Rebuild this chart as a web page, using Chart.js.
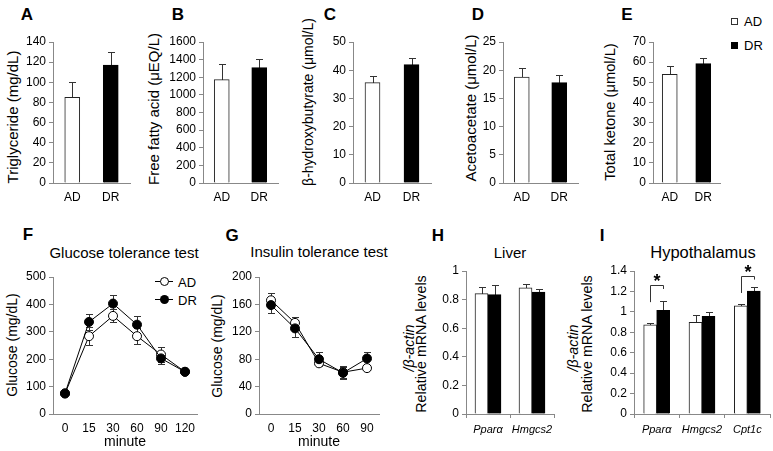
<!DOCTYPE html>
<html>
<head>
<meta charset="utf-8">
<script src="https://cdn.jsdelivr.net/npm/chart.js@4.4.1/dist/chart.umd.min.js"></script>
<style>
  html, body { margin: 0; padding: 0; background: #fff; overflow: hidden; }
  body { width: 773px; height: 451px; position: relative; font-family: 'Liberation Sans', Arial, sans-serif; color: #000; }
  .lbl { position: absolute; white-space: nowrap; transform: translate(-50%, -50%); line-height: 1; }
  .lt { position: absolute; white-space: nowrap; transform: translate(0, -50%); line-height: 1; font-size: 13px; }
  .ylab { position: absolute; white-space: nowrap; transform: translate(-50%, -50%) rotate(-90deg); line-height: 1; }
  .letter { font-weight: bold; font-size: 17px; }
  .mk { position: absolute; box-sizing: border-box; }
</style>
</head>
<body>
<!-- panel letters -->
<div class="lbl letter" style="left:27px;top:14px">A</div>
<div class="lbl letter" style="left:178px;top:14px">B</div>
<div class="lbl letter" style="left:330px;top:14px">C</div>
<div class="lbl letter" style="left:478px;top:14px">D</div>
<div class="lbl letter" style="left:627px;top:14px">E</div>
<div class="lbl letter" style="left:28px;top:234px">F</div>
<div class="lbl letter" style="left:232px;top:235px">G</div>
<div class="lbl letter" style="left:438px;top:235px">H</div>
<div class="lbl letter" style="left:602px;top:235px">I</div>

<!-- titles -->
<div class="lbl" style="left:124px;top:252px;font-size:15px">Glucose tolerance test</div>
<div class="lbl" style="left:319px;top:251px;font-size:15px">Insulin tolerance test</div>
<div class="lbl" style="left:510px;top:252px;font-size:15px">Liver</div>
<div class="lbl" style="left:703px;top:252px;font-size:16.5px">Hypothalamus</div>

<!-- y axis labels -->
<div class="ylab" style="left:12px;top:117px;font-size:15px">Triglyceride (mg/dL)</div>
<div class="ylab" style="left:153px;top:109px;font-size:15px">Free fatty acid (μEQ/L)</div>
<div class="ylab" style="left:308px;top:102px;font-size:14px">β-hydroxybutyrate (μmol/L)</div>
<div class="ylab" style="left:470px;top:108px;font-size:15px">Acetoacetate (μmol/L)</div>
<div class="ylab" style="left:610px;top:112px;font-size:14.7px">Total ketone (μmol/L)</div>
<div class="ylab" style="left:12px;top:345px;font-size:14px">Glucose (mg/dL)</div>
<div class="ylab" style="left:217px;top:346px;font-size:14px">Glucose (mg/dL)</div>
<div class="ylab" style="left:421px;top:344px;font-size:14.3px">Relative mRNA levels</div>
<div class="ylab" style="left:409px;top:348px;font-size:14.3px"><i>/β-actin</i></div>
<div class="ylab" style="left:587px;top:344px;font-size:14.3px">Relative mRNA levels</div>
<div class="ylab" style="left:573px;top:348px;font-size:14.3px"><i>/β-actin</i></div>

<!-- legend E -->
<div class="mk" style="left:731px;top:18px;width:7px;height:7px;border:1px solid #333;background:#fff"></div>
<div class="lt" style="left:744px;top:21px">AD</div>
<div class="mk" style="left:731px;top:42px;width:7px;height:7px;background:#000"></div>
<div class="lt" style="left:744px;top:45px">DR</div>

<!-- legend F -->
<div class="mk" style="left:155px;top:281px;width:18px;height:1px;background:#000"></div>
<div class="mk" style="left:160px;top:277px;width:9px;height:9px;border:1px solid #000;border-radius:50%;background:#fff"></div>
<div class="lt" style="left:178px;top:282px">AD</div>
<div class="mk" style="left:155px;top:299px;width:18px;height:1px;background:#000"></div>
<div class="mk" style="left:160px;top:295px;width:9px;height:9px;border-radius:50%;background:#000"></div>
<div class="lt" style="left:178px;top:300px">DR</div>

<script>
// ---- data ----
const groups = ['AD', 'DR'];

const tgMean = [85, 117];
const tgErr = [15, 13];
const ffaMean = [1173, 1309];
const ffaErr = [182, 99];
const bhbMean = [35.6, 42.0];
const bhbErr = [2.4, 2.4];
const acacMean = [18.8, 17.8];
const acacErr = [1.6, 1.4];
const ketoneMean = [54.0, 59.3];
const ketoneErr = [4.1, 3.0];

const gttMinutes = ['0', '15', '30', '60', '90', '120'];
const gttAD = [75, 284, 358, 284, 217, 154];
const gttADErr = [5, 33, 24, 29, 28, 5];
const gttDR = [75, 336, 403, 326, 203, 154];
const gttDRErr = [5, 28, 33, 32, 21, 5];

const ittMinutes = ['0', '15', '30', '60', '90'];
const ittAD = [166, 133, 74, 61, 67];
const ittADErr = [10, 9, 3, 9, 3];
const ittDR = [159, 125, 80, 60, 81];
const ittDRErr = [12, 12, 10, 9, 9];

const liverGenes = ['Pparα', 'Hmgcs2'];
const liverAD = [0.842, 0.882];
const liverADErr = [0.047, 0.03];
const liverDR = [0.835, 0.852];
const liverDRErr = [0.065, 0.023];

const hypoGenes = ['Pparα', 'Hmgcs2', 'Cpt1c'];
const hypoAD = [0.874, 0.897, 1.058];
const hypoADErr = [0.015, 0.074, 0.02];
const hypoDR = [1.016, 0.955, 1.203];
const hypoDRErr = [0.09, 0.045, 0.04];

// significance brackets (gene index, bracket top, left leg end, right leg end)
const sigGene = [0, 2];
const sigTop = [1.263, 1.348];
const sigLeft = [1.095, 1.185];
const sigRight = [1.224, 1.316];

// y axis [max, step]
const tgAxis = [140, 20];
const ffaAxis = [1600, 200];
const bhbAxis = [50, 10];
const acacAxis = [25, 5];
const ketoneAxis = [70, 10];
const gttAxis = [500, 100];
const ittAxis = [200, 40];
const liverAxis = [1, 0.2];
const hypoAxis = [1.4, 0.2];

// ---- helpers ----
const font = "'Liberation Sans', Arial, sans-serif";
const axisGray = '#888';

const errorBars = {
    id: 'errorBars',
    beforeDatasetsDraw(chart, args, opts) {
        const ctx = chart.ctx;
        const y = chart.scales.y;
        ctx.save();
        ctx.strokeStyle = '#333';
        ctx.lineWidth = 1;
        chart.data.datasets.forEach((ds, i) => {
            if (!ds.errors) return;
            chart.getDatasetMeta(i).data.forEach((el, j) => {
                const v = ds.data[j], e = ds.errors[j];
                const x = Math.round(el.x) + 0.5;
                const top = Math.round(y.getPixelForValue(v + e)) + 0.5;
                const bot = Math.round(y.getPixelForValue(opts.both ? v - e : v)) + 0.5;
                ctx.beginPath();
                ctx.moveTo(x, bot);
                ctx.lineTo(x, top);
                ctx.moveTo(x - 3.5, top);
                ctx.lineTo(x + 3.5, top);
                if (opts.both) {
                    ctx.moveTo(x - 3.5, bot);
                    ctx.lineTo(x + 3.5, bot);
                }
                ctx.stroke();
            });
        });
        ctx.restore();
    }
};

const sigBrackets = {
    id: 'sigBrackets',
    afterDatasetsDraw(chart, args, opts) {
        if (!opts || !opts.gene) return;
        const ctx = chart.ctx;
        const y = chart.scales.y;
        const m0 = chart.getDatasetMeta(0), m1 = chart.getDatasetMeta(1);
        ctx.save();
        ctx.strokeStyle = '#333';
        ctx.lineWidth = 1;
        ctx.fillStyle = '#000';
        ctx.font = 'bold 18px ' + font;
        ctx.textAlign = 'center';
        ctx.textBaseline = 'alphabetic';
        opts.gene.forEach((k, n) => {
            const x0 = Math.round(m0.data[k].x) + 0.5;
            const x1 = Math.round(m1.data[k].x) + 0.5;
            const yt = Math.round(y.getPixelForValue(opts.top[n])) + 0.5;
            ctx.beginPath();
            ctx.moveTo(x0, y.getPixelForValue(opts.left[n]));
            ctx.lineTo(x0, yt);
            ctx.lineTo(x1, yt);
            ctx.lineTo(x1, y.getPixelForValue(opts.right[n]));
            ctx.stroke();
            ctx.fillText('*', (x0 + x1) / 2, yt + 1);
        });
        ctx.restore();
    }
};

Chart.register(errorBars, sigBrackets);

function yAxis(range) {
    return {
        min: 0,
        max: range[0],
        ticks: {
            stepSize: range[1],
            color: '#000',
            padding: 3,
            font: { family: font, size: 12 },
            callback: v => String(Math.round(v * 100) / 100)
        },
        grid: { drawOnChartArea: false, drawTicks: true, tickLength: 4, color: axisGray },
        border: { display: true, color: axisGray }
    };
}

function xAxis(withTicks, extra) {
    const ax = {
        type: 'category',
        offset: true,
        ticks: { color: '#000', padding: 7, maxRotation: 0, autoSkip: false, font: { family: font, size: 12 } },
        grid: { display: false, drawTicks: false },
        border: { display: true, color: axisGray }
    };
    if (withTicks) {
        ax.grid = { display: true, drawOnChartArea: false, drawTicks: true, tickLength: 4, offset: true, color: axisGray };
        ax.ticks.padding = 5;
        ax.ticks.font = { family: font, size: 11, style: 'italic' };
    }
    return Object.assign(ax, extra || {});
}

// area = [left, top, right, bottom] of the plot frame in page pixels
function panel(area, padTop, xHeight, config) {
    const yW = 40, padR = 6;
    const left = area[0] - yW;
    const top = area[1] - padTop;
    const canvas = document.createElement('canvas');
    canvas.width = area[2] - left + padR;
    canvas.height = area[3] - top + xHeight;
    canvas.style.cssText = 'position:absolute;left:' + left + 'px;top:' + top + 'px';
    document.body.appendChild(canvas);

    const o = config.options;
    o.responsive = false;
    o.animation = false;
    o.events = [];
    o.layout = { padding: { top: padTop, right: padR, left: 0, bottom: 0 } };
    o.scales.x.afterFit = s => { s.height = xHeight; };
    o.scales.y.afterFit = s => { s.width = yW; };
    o.plugins = Object.assign({ legend: { display: false }, tooltip: { enabled: false } }, o.plugins || {});
    return new Chart(canvas, config);
}

function twoBarPanel(area, means, errs, range) {
    panel(area, 12, 30, {
        type: 'bar',
        data: {
            labels: groups,
            datasets: [{
                data: means,
                errors: errs,
                backgroundColor: ['#fff', '#000'],
                borderColor: ['#222', '#000'],
                borderWidth: 1,
                barThickness: 15
            }]
        },
        options: { scales: { x: xAxis(false), y: yAxis(range) } }
    });
}

function linePanel(area, labels, ad, adErr, dr, drErr, range) {
    const pt = { borderColor: '#000', borderWidth: 1, pointRadius: 4.5, pointBorderColor: '#000', pointBorderWidth: 1 };
    panel(area, 12, 37, {
        type: 'line',
        data: {
            labels: labels,
            datasets: [
                Object.assign({ label: 'AD', data: ad, errors: adErr, order: 1, pointBackgroundColor: '#fff' }, pt),
                Object.assign({ label: 'DR', data: dr, errors: drErr, order: 0, pointBackgroundColor: '#000' }, pt)
            ]
        },
        options: {
            plugins: { errorBars: { both: true } },
            scales: {
                x: xAxis(false, { title: { display: true, text: 'minute', color: '#000', padding: 0, font: { family: font, size: 14 } } }),
                y: yAxis(range)
            }
        }
    });
}

function genePanel(area, padTop, genes, ad, adErr, dr, drErr, range, sig) {
    panel(area, padTop, 30, {
        type: 'bar',
        data: {
            labels: genes,
            datasets: [
                { label: 'AD', data: ad, errors: adErr, backgroundColor: '#fff', borderColor: '#222', borderWidth: 1, barThickness: 13 },
                { label: 'DR', data: dr, errors: drErr, backgroundColor: '#000', borderColor: '#000', borderWidth: 1, barThickness: 13 }
            ]
        },
        options: {
            plugins: { sigBrackets: sig || false },
            scales: { x: xAxis(true), y: yAxis(range) }
        }
    });
}

// ---- panels ----
twoBarPanel([53, 42, 130, 183], tgMean, tgErr, tgAxis);
twoBarPanel([203, 42, 278, 183], ffaMean, ffaErr, ffaAxis);
twoBarPanel([353, 42, 431, 183], bhbMean, bhbErr, bhbAxis);
twoBarPanel([503, 42, 578, 183], acacMean, acacErr, acacAxis);
twoBarPanel([653, 42, 720, 183], ketoneMean, ketoneErr, ketoneAxis);

linePanel([53, 277, 197, 414], gttMinutes, gttAD, gttADErr, gttDR, gttDRErr, gttAxis);
linePanel([259, 277, 379, 414], ittMinutes, ittAD, ittADErr, ittDR, ittDRErr, ittAxis);

genePanel([466, 271, 554, 414], 12, liverGenes, liverAD, liverADErr, liverDR, liverDRErr, liverAxis);
genePanel([634, 271, 770, 414], 16, hypoGenes, hypoAD, hypoADErr, hypoDR, hypoDRErr, hypoAxis,
    { gene: sigGene, top: sigTop, left: sigLeft, right: sigRight });
</script>
</body>
</html>
